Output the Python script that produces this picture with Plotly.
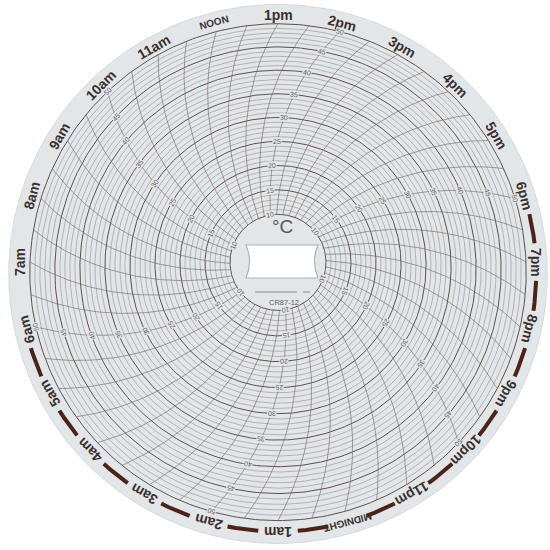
import numpy as np
import plotly.graph_objs as go

# chart values
temps_all = list(range(10, 51))                      # one circle per degree C
temps_major = [10, 15, 20, 25, 30, 35, 40, 45, 50]   # darker, labelled circles
time_lines = [h / 2 for h in range(48)]              # half-hour time arcs
hour_ticks = list(range(24))
hour_labels = ["MIDNIGHT", "1am", "2am", "3am", "4am", "5am", "6am", "7am",
               "8am", "9am", "10am", "11am", "NOON", "1pm", "2pm", "3pm",
               "4pm", "5pm", "6pm", "7pm", "8pm", "9pm", "10pm", "11pm"]
scale_columns = [2, 6, 10, 14, 18, 22]               # arcs carrying the C scale
night_marks = [18.5, 19.5, 20.5, 21.5, 22.5, 23.5, 0.5, 1.5, 2.5, 3.5, 4.5, 5.5]

# geometry of the disc in the photo
X0, Y0 = 278, 262
TILT = 1.65e-4
R_IN, R_OUT = 48, 248
R_TEXT, R_DISK = 258, 269
ARM = 250
DISC = "#e3e6e9"


def temp_r(t):
    return R_IN + (np.asarray(t, dtype=float) - 10) * (R_OUT - R_IN) / 40


def hour_angle(h):
    return ((h - 13) * 15) % 360


def arm_shift(r):
    r = np.asarray(r, dtype=float)
    return np.degrees(np.arccos(r / (2 * ARM))) - np.degrees(np.arccos(R_OUT / (2 * ARM)))


def to_xy(r, a):
    a = np.radians(a)
    u = r * np.sin(a)
    v = -r * np.cos(a)
    d = 1 - TILT * v
    return X0 + u / d, Y0 + v / d


def join(parts):
    xs, ys = [], []
    for x, y in parts:
        xs += list(x) + [None]
        ys += list(y) + [None]
    return xs, ys


def rot(a):
    a = a % 360
    return a - 360 if a > 180 else a


fig = go.Figure()

# paper disc
full = np.linspace(0, 360, 361)
dx, dy = to_xy(R_DISK, full)
fig.add_trace(go.Scatter(x=dx, y=dy, fill="toself", fillcolor=DISC,
                         line=dict(color="#d6dade", width=1), mode="lines"))

# temperature circles
minor = join(to_xy(temp_r(t), full) for t in temps_all if t not in temps_major)
major = join(to_xy(temp_r(t), full) for t in temps_major)
fig.add_trace(go.Scatter(x=minor[0], y=minor[1], mode="lines",
                         line=dict(color="#8c9096", width=0.6)))
fig.add_trace(go.Scatter(x=major[0], y=major[1], mode="lines",
                         line=dict(color="#5e504b", width=1.0)))

# time arcs
rr = np.linspace(R_IN, R_OUT, 50)
arcs = join(to_xy(rr, hour_angle(h) - arm_shift(rr)) for h in time_lines)
fig.add_trace(go.Scatter(x=arcs[0], y=arcs[1], mode="lines",
                         line=dict(color="#786a64", width=0.65)))

# night dashes between the hour labels
dashes = join(to_xy(R_TEXT, np.linspace(hour_angle(h) - 3.3, hour_angle(h) + 3.3, 12))
              for h in night_marks)
fig.add_trace(go.Scatter(x=dashes[0], y=dashes[1], mode="lines",
                         line=dict(color="#4b2318", width=4)))

# hour labels round the rim
for h, name in zip(hour_ticks, hour_labels):
    a = hour_angle(h)
    x, y = to_xy(R_TEXT, a)
    small = name in ("NOON", "MIDNIGHT")
    fig.add_annotation(x=x, y=y, text="<b>%s</b>" % name, showarrow=False,
                       textangle=rot(a), xanchor="center", yanchor="middle",
                       font=dict(family="Liberation Sans", size=10 if small else 14,
                                 color="#3a302e"))

# temperature scale along six arcs
for h in scale_columns:
    for t in temps_major:
        r = float(temp_r(t))
        a = hour_angle(h) - float(arm_shift(r))
        x, y = to_xy(r, a)
        fig.add_annotation(x=x, y=y, text=str(t), showarrow=False,
                           textangle=rot(a), xanchor="center", yanchor="middle",
                           bgcolor=DISC, borderpad=0,
                           font=dict(family="Liberation Sans", size=7, color="#5c5c5c"))

# hub with slot
hub = to_xy(R_IN - 1, full)
fig.add_trace(go.Scatter(x=hub[0], y=hub[1], fill="toself", fillcolor=DISC,
                         line=dict(color=DISC, width=0), mode="lines"))
fig.add_shape(type="path",
              path="M 246,245 L 318,245 Q 311,261.5 318,278 L 246,278 Q 253,261.5 246,245 Z",
              fillcolor="#ffffff", line=dict(color="#a8b3bf", width=1.2))
fig.add_shape(type="line", x0=255, y0=292, x1=297, y1=292,
              line=dict(color="#8a8a8a", width=1))
fig.add_shape(type="line", x0=303, y0=292, x1=310, y1=292,
              line=dict(color="#8a8a8a", width=1))
fig.add_annotation(x=282, y=226, text="°C", showarrow=False,
                   font=dict(family="Liberation Sans", size=19, color="#555a60"))
fig.add_annotation(x=284, y=302, text="CR87-12", showarrow=False,
                   font=dict(family="Liberation Sans", size=7.5, color="#5a5a5a"))

fig.update_layout(width=550, height=550, autosize=False, showlegend=False,
                  margin=dict(l=0, r=0, t=0, b=0, pad=0),
                  paper_bgcolor="white", plot_bgcolor="white", hovermode=False)
fig.update_xaxes(range=[0, 550], visible=False, fixedrange=True)
fig.update_yaxes(range=[550, 0], visible=False, fixedrange=True)

fig.write_html("out.html", config={"displayModeBar": False},
               post_script="document.body.style.margin = '0';")
